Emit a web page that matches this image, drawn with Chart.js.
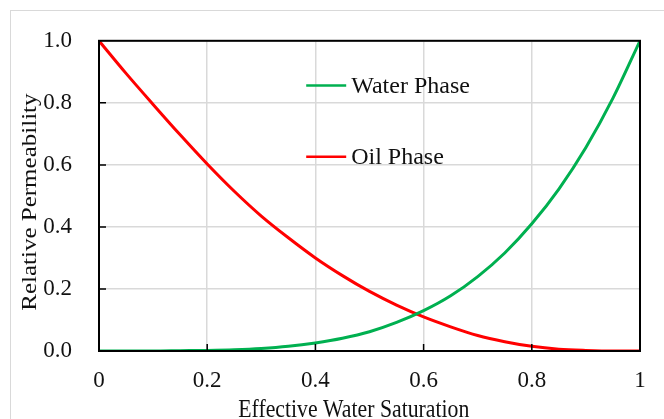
<!DOCTYPE html>
<html>
<head>
    <title>Relative Permeability</title>
    <script src="https://cdn.jsdelivr.net/npm/chart.js"></script>
    <style>
      html, body { margin: 0; padding: 0; background: #ffffff; }
      #wrap { position: relative; width: 664px; height: 419px; overflow: hidden; }
      #frame {
        position: absolute; left: 10px; top: 10px; width: 700px; height: 500px;
        border-left: 1px solid #d9d9d9; border-top: 1px solid #d9d9d9;
      }
      canvas { position: absolute; left: 0; top: 0; }
    </style>
</head>
<body>
<div id="wrap">
  <div id="frame"></div>
  <canvas id="krChart" width="664" height="419"></canvas>
</div>
<script>
// effective water saturation (x) and relative permeabilities read at each step
const saturation = [0, 0.05, 0.1, 0.15, 0.2, 0.25, 0.3, 0.35, 0.4, 0.45, 0.5,
                    0.55, 0.6, 0.65, 0.7, 0.75, 0.8, 0.85, 0.9, 0.95, 1];
const waterKr = [0, 0, 0, 0.001, 0.002, 0.004, 0.008, 0.015, 0.026, 0.041, 0.062,
                 0.092, 0.130, 0.178, 0.240, 0.316, 0.410, 0.522, 0.656, 0.815, 1.0];
const oilKr   = [1.0, 0.895, 0.795, 0.697, 0.603, 0.515, 0.435, 0.365, 0.300, 0.243, 0.192,
                 0.148, 0.110, 0.078, 0.050, 0.030, 0.015, 0.006, 0.002, 0, 0];
const seriesNames = ['Water Phase', 'Oil Phase'];
const seriesColors = ['#00b050', '#ff0000'];
const tickValues = [0, 0.2, 0.4, 0.6, 0.8, 1];
const xTitle = 'Effective Water Saturation';
const yTitle = 'Relative Permeability';

const FONT = 'Liberation Serif, Times New Roman, serif';
const SQUEEZE = 0.87; // axis titles are set slightly narrow

function points(ys) {
  return saturation.map((s, i) => ({ x: s, y: ys[i] }));
}

// frame, inward tick marks, axis titles and the in-plot legend
const framePlugin = {
  id: 'framePlugin',
  afterDatasetsDraw(chart) {
    const ctx = chart.ctx;
    const a = chart.chartArea;
    const xs = chart.scales.x, ys = chart.scales.y;
    ctx.save();
    ctx.strokeStyle = '#000';
    ctx.lineWidth = 2;
    ctx.strokeRect(a.left, a.top, a.right - a.left, a.bottom - a.top);
    ctx.lineWidth = 1.5;
    ctx.beginPath();
    tickValues.slice(1, -1).forEach(v => {
      const px = xs.getPixelForValue(v);
      ctx.moveTo(px, a.bottom); ctx.lineTo(px, a.bottom - 7);
      const py = ys.getPixelForValue(v);
      ctx.moveTo(a.left, py); ctx.lineTo(a.left + 7, py);
    });
    ctx.stroke();

    // axis titles
    ctx.fillStyle = '#111';
    ctx.font = '25px ' + FONT;
    ctx.textAlign = 'center';
    ctx.textBaseline = 'alphabetic';
    ctx.save();
    ctx.translate(a.left + (a.right - a.left) * 0.471, 416.5);
    ctx.scale(SQUEEZE, 1);
    ctx.fillText(xTitle, 0, 0);
    ctx.restore();
    ctx.save();
    ctx.translate(36, a.top + (a.bottom - a.top) * 0.52);
    ctx.scale(SQUEEZE, 1);
    ctx.rotate(-Math.PI / 2);
    ctx.fillText(yTitle, 0, 0);
    ctx.restore();

    // legend entries
    ctx.font = '24px ' + FONT;
    ctx.textAlign = 'left';
    ctx.textBaseline = 'middle';
    const lx = xs.getPixelForValue(0.383);
    const rows = [ys.getPixelForValue(0.856), ys.getPixelForValue(0.626)];
    rows.forEach((y, i) => {
      ctx.strokeStyle = seriesColors[i];
      ctx.lineWidth = 2.5;
      ctx.beginPath();
      ctx.moveTo(lx, y); ctx.lineTo(lx + 40, y);
      ctx.stroke();
      ctx.fillText(seriesNames[i], lx + 45, y + 1);
    });
    ctx.restore();
  }
};

new Chart(document.getElementById('krChart'), {
  type: 'line',
  data: {
    datasets: [
      { label: seriesNames[0], data: points(waterKr), borderColor: seriesColors[0] },
      { label: seriesNames[1], data: points(oilKr), borderColor: seriesColors[1] }
    ]
  },
  options: {
    responsive: false,
    animation: false,
    layout: { padding: { top: 38, right: 24, left: 0, bottom: 0 } },
    elements: {
      point: { radius: 0 },
      line: { borderWidth: 3, cubicInterpolationMode: 'monotone', fill: false }
    },
    plugins: { legend: { display: false }, tooltip: { enabled: false } },
    scales: {
      x: {
        type: 'linear', min: 0, max: 1,
        afterFit(scale) { scale.height = 68; },
        afterBuildTicks(scale) { scale.ticks = tickValues.map(v => ({ value: v })); },
        grid: { color: '#d9d9d9', lineWidth: 1.5, drawTicks: false },
        border: { display: true, color: '#000', width: 2 },
        ticks: {
          padding: 16, color: '#111', font: { family: FONT, size: 23 },
          callback: v => (v === 0 || v === 1) ? String(v) : v.toFixed(1)
        }
      },
      y: {
        min: 0, max: 1,
        afterFit(scale) { scale.width = 99; },
        afterBuildTicks(scale) { scale.ticks = tickValues.map(v => ({ value: v })); },
        grid: { color: '#d9d9d9', lineWidth: 1.5, drawTicks: false },
        border: { display: true, color: '#000', width: 2 },
        ticks: {
          padding: 27, color: '#111', font: { family: FONT, size: 23 },
          callback: v => v.toFixed(1)
        }
      }
    }
  },
  plugins: [framePlugin]
});
</script>
</body>
</html>
